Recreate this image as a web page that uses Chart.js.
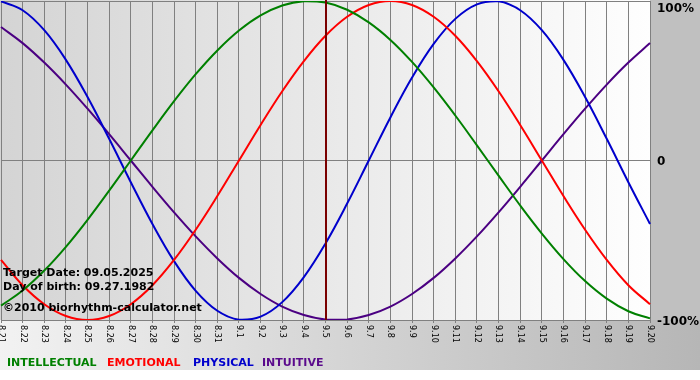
<!DOCTYPE html>
<html>
<head>
<meta charset="utf-8">
<script src="https://cdn.jsdelivr.net/npm/chart.js@4.4.0/dist/chart.umd.min.js"></script>
<style>
html,body{margin:0;padding:0;background:#fff;}
#wrap{width:700px;height:380px;position:relative;}
</style>
</head>
<body>
<div id="wrap"><canvas id="c" width="700" height="380"></canvas></div>
<script>
const days = ["8.21","8.22","8.23","8.24","8.25","8.26","8.27","8.28","8.29","8.30","8.31",
  "9.1","9.2","9.3","9.4","9.5","9.6","9.7","9.8","9.9","9.10","9.11","9.12","9.13","9.14",
  "9.15","9.16","9.17","9.18","9.19","9.20"];
const intellectual = [-0.910,-0.815,-0.690,-0.541,-0.372,-0.189,0,0.189,0.372,0.541,0.690,0.815,0.910,0.972,0.999,0.990,
  0.945,0.866,0.756,0.618,0.458,0.282,0.095,-0.095,-0.282,-0.458,-0.618,-0.756,-0.866,-0.945,-0.990];
const emotional = [-0.623,-0.782,-0.901,-0.975,-1.000,-0.975,-0.901,-0.782,-0.623,-0.434,-0.223,0,0.223,0.434,0.623,0.782,
  0.901,0.975,1.000,0.975,0.901,0.782,0.623,0.434,0.223,0,-0.223,-0.434,-0.623,-0.782,-0.901];
const physical = [0.998,0.942,0.817,0.631,0.398,0.136,-0.136,-0.398,-0.631,-0.817,-0.942,-0.998,-0.979,-0.888,-0.731,-0.520,
  -0.270,0,0.270,0.520,0.731,0.888,0.979,0.998,0.942,0.817,0.631,0.398,0.136,-0.136,-0.398];
const intuitive = [0.837,0.736,0.614,0.476,0.325,0.165,0,-0.165,-0.325,-0.476,-0.614,-0.736,-0.837,-0.916,-0.969,-0.997,
  -0.997,-0.969,-0.916,-0.837,-0.736,-0.614,-0.476,-0.325,-0.165,0,0.165,0.325,0.476,0.614,0.736];
const yTicks = [1, 0, -1];
const yTickLabels = ["100%", "0", "-100%"];
const targetDay = "9.5";
const infoLines = ["Target Date: 09.05.2025", "Day of birth: 09.27.1982", "\u00A92010 biorhythm-calculator.net"];
const seriesNames = ["INTELLECTUAL", "EMOTIONAL", "PHYSICAL", "INTUITIVE"];

const colors = ["#008000", "#ff0000", "#0000cc", "#4b0082"];
const legendColors = ["#008000", "#ff0000", "#0000cc", "#5a0a8c"];
const seriesData = [intellectual, emotional, physical, intuitive];

const bgPlugin = {
  id: 'bg',
  beforeDraw(chart) {
    const ctx = chart.ctx, a = chart.chartArea;
    ctx.save();
    ctx.fillStyle = '#ffffff';
    ctx.fillRect(0, 0, 700, 380);
    let g = ctx.createLinearGradient(0, 0, 700, 0);
    g.addColorStop(0, '#f2f2f2');
    g.addColorStop(1, '#b6b6b6');
    ctx.fillStyle = g;
    ctx.fillRect(0, a.bottom, 700, 370 - a.bottom);
    ctx.fillStyle = '#c0c0c0';
    ctx.fillRect(a.right, 0, 700 - a.right, a.bottom);
    g = ctx.createLinearGradient(a.left, 0, a.right, 0);
    g.addColorStop(0, '#d4d4d4');
    g.addColorStop(1, '#fefefe');
    ctx.fillStyle = g;
    ctx.fillRect(0, 0, a.right, a.bottom);
    ctx.restore();
  },
  afterDatasetsDraw(chart) {
    const ctx = chart.ctx, a = chart.chartArea;
    const xs = chart.scales.x;
    ctx.save();
    const tx = Math.round(xs.getPixelForValue(days.indexOf(targetDay)));
    ctx.strokeStyle = '#7a0000';
    ctx.lineWidth = 2;
    ctx.beginPath();
    ctx.moveTo(tx, 0);
    ctx.lineTo(tx, a.bottom);
    ctx.stroke();
    ctx.restore();
  },
  afterDraw(chart) {
    const ctx = chart.ctx, a = chart.chartArea;
    const xs = chart.scales.x, ys = chart.scales.y;
    ctx.save();
    ctx.fillStyle = '#000';
    ctx.font = '8px "DejaVu Sans"';
    ctx.textAlign = 'left';
    ctx.textBaseline = 'middle';
    days.forEach((d, i) => {
      const x = xs.getPixelForValue(i);
      ctx.save();
      ctx.translate(x, a.bottom + 5);
      ctx.rotate(Math.PI / 2);
      ctx.fillText(d, 0, 0);
      ctx.restore();
    });
    ctx.font = 'bold 12px "DejaVu Sans"';
    ctx.textBaseline = 'alphabetic';
    yTicks.forEach((v, i) => {
      let y = ys.getPixelForValue(v);
      if (y < 7) y = 7;
      ctx.fillText(yTickLabels[i], a.right + 7, y + 4.5);
    });
    ctx.font = 'bold 11px "DejaVu Sans"';
    const infoY = [276, 290, 311];
    infoLines.forEach((t, i) => ctx.fillText(t, 3, infoY[i]));
    const legX = [7, 107, 193, 262];
    seriesNames.forEach((n, i) => {
      ctx.fillStyle = legendColors[i];
      ctx.fillText(n, legX[i], 366);
    });
    ctx.restore();
  }
};

new Chart(document.getElementById('c'), {
  type: 'line',
  data: {
    labels: days,
    datasets: seriesNames.map((n, i) => ({
      label: n,
      data: seriesData[i],
      borderColor: colors[i],
      borderWidth: 2,
      pointRadius: 0,
      tension: 0.4,
      fill: false
    }))
  },
  options: {
    responsive: false,
    animation: false,
    devicePixelRatio: 1,
    layout: { padding: { left: 1, right: 50, top: 1, bottom: 57 } },
    plugins: { legend: { display: false }, tooltip: { enabled: false } },
    scales: {
      x: {
        type: 'category',
        offset: false,
        grid: { color: '#808080', lineWidth: 1, drawTicks: true, tickLength: 3, tickColor: '#808080' },
        border: { color: '#808080' },
        ticks: { display: false }
      },
      y: {
        position: 'right',
        min: -1, max: 1,
        grid: { color: '#808080', lineWidth: 1, drawTicks: false },
        border: { color: '#808080' },
        ticks: { display: false, stepSize: 1 }
      }
    }
  },
  plugins: [bgPlugin]
});
</script>
</body>
</html>
